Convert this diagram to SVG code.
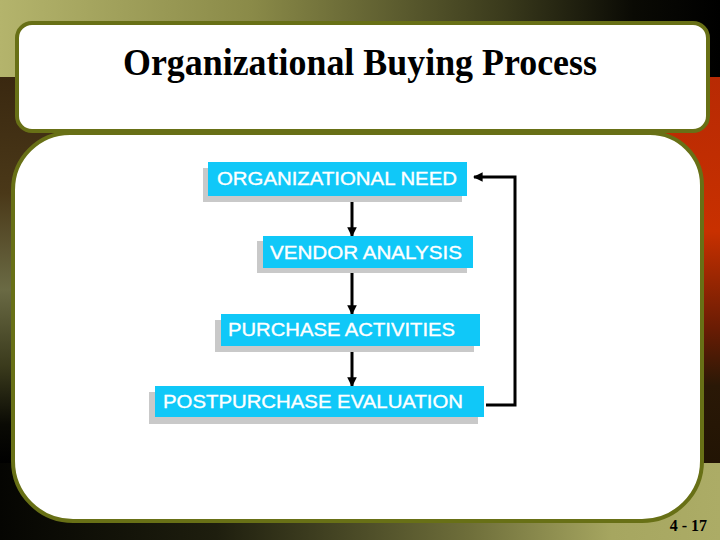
<svg xmlns="http://www.w3.org/2000/svg" width="720" height="540" viewBox="0 0 720 540">
<defs>
<linearGradient id="topBand" x1="0" y1="0" x2="1" y2="0">
<stop offset="0" stop-color="#b4b46c"/>
<stop offset="0.35" stop-color="#8a8a48"/>
<stop offset="0.7" stop-color="#3a3a1c"/>
<stop offset="0.88" stop-color="#0a0a04"/>
<stop offset="1" stop-color="#000000"/>
</linearGradient>
<linearGradient id="botBand" x1="0" y1="0" x2="1" y2="0">
<stop offset="0" stop-color="#050502"/>
<stop offset="0.3" stop-color="#1e1e0e"/>
<stop offset="0.65" stop-color="#6e6e3a"/>
<stop offset="0.85" stop-color="#a6a660"/>
<stop offset="1" stop-color="#acac66"/>
</linearGradient>
<linearGradient id="leftMid" x1="0" y1="0" x2="0" y2="1">
<stop offset="0" stop-color="#3a2810"/>
<stop offset="0.3" stop-color="#4a3818"/>
<stop offset="0.55" stop-color="#6a6a44"/>
<stop offset="0.75" stop-color="#3a3a1c"/>
<stop offset="0.9" stop-color="#0a0a04"/>
<stop offset="1" stop-color="#000000"/>
</linearGradient>
<linearGradient id="rightMid" x1="0" y1="0" x2="0" y2="1">
<stop offset="0" stop-color="#b82a04"/>
<stop offset="0.4" stop-color="#c83000"/>
<stop offset="0.65" stop-color="#6a1c04"/>
<stop offset="0.8" stop-color="#2a1806"/>
<stop offset="1" stop-color="#221404"/>
</linearGradient>
<marker id="ah" viewBox="0 0 10 10" refX="9" refY="5" markerWidth="3.2" markerHeight="3.2" orient="auto" markerUnits="strokeWidth">
<path d="M0,0 L10,5 L0,10 z" fill="#000"/>
</marker>
<style>
.panel{fill:#ffffff;stroke:#687016;stroke-width:4}
.shadow{fill:#c9c9c9}
.box{fill:#10c8f8}
.lbl{font-family:"Liberation Sans",Arial,sans-serif;font-size:18px;fill:#ffffff;stroke:#ffffff;stroke-width:0.35}
.conn{fill:none;stroke:#000;stroke-width:3}
</style>
</defs>
<g id="background">
<rect x="0" y="0" width="720" height="540" fill="#2a1a0a"/>
<rect x="0" y="77" width="360" height="386" fill="url(#leftMid)"/>
<rect x="360" y="77" width="360" height="386" fill="url(#rightMid)"/>
<rect x="0" y="0" width="720" height="77" fill="url(#topBand)"/>
<rect x="0" y="463" width="720" height="77" fill="url(#botBand)"/>
</g>
<g id="main-panel">
<path class="panel" d="M70,133 H650 A52,52 0 0 1 702,185 V461 A60,60 0 0 1 642,521 H73 A60,60 0 0 1 13,461 V190 A57,57 0 0 1 70,133 Z"/>
</g>
<g id="title-panel">
<rect class="panel" x="17" y="23" width="691" height="108" rx="15" ry="15"/>
<text x="123" y="75" font-family="'Liberation Serif','Times New Roman',serif" font-weight="bold" font-size="37" textLength="474" lengthAdjust="spacingAndGlyphs" fill="#000">Organizational Buying Process</text>
</g>
<g id="connectors">
<line class="conn" x1="352" y1="196" x2="352" y2="236" marker-end="url(#ah)"/>
<line class="conn" x1="352" y1="268" x2="352" y2="314" marker-end="url(#ah)"/>
<line class="conn" x1="352" y1="346" x2="352" y2="386" marker-end="url(#ah)"/>
<polyline class="conn" points="486,405 515,405 515,177 474,177" marker-end="url(#ah)"/>
</g>
<g id="node-need">
<rect class="shadow" x="203" y="168" width="259" height="34"/>
<rect class="box" x="208" y="162" width="259" height="34"/>
<text class="lbl" x="217" y="185" textLength="240" lengthAdjust="spacingAndGlyphs">ORGANIZATIONAL NEED</text>
</g>
<g id="node-vendor">
<rect class="shadow" x="257" y="241" width="210" height="32"/>
<rect class="box" x="263" y="236" width="210" height="32"/>
<text class="lbl" x="270" y="259" textLength="192" lengthAdjust="spacingAndGlyphs">VENDOR ANALYSIS</text>
</g>
<g id="node-purchase">
<rect class="shadow" x="215" y="320" width="259" height="32"/>
<rect class="box" x="221" y="314" width="259" height="32"/>
<text class="lbl" x="228" y="336" textLength="227" lengthAdjust="spacingAndGlyphs">PURCHASE ACTIVITIES</text>
</g>
<g id="node-post">
<rect class="shadow" x="149" y="392" width="329" height="32"/>
<rect class="box" x="155" y="386" width="329" height="31"/>
<text class="lbl" x="163" y="408" textLength="300" lengthAdjust="spacingAndGlyphs">POSTPURCHASE EVALUATION</text>
</g>
<text x="707" y="531" text-anchor="end" font-family="'Liberation Serif','Times New Roman',serif" font-weight="bold" font-size="16" fill="#000" xml:space="preserve">4 - 17</text>
</svg>
